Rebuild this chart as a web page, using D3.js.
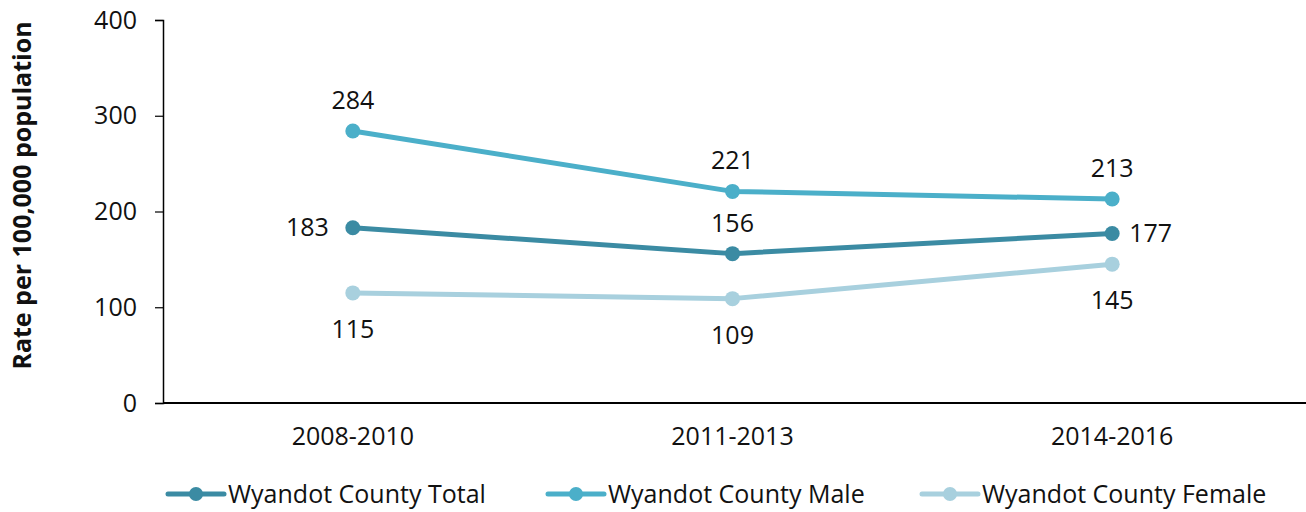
<!DOCTYPE html>
<html>
<head>
<meta charset="utf-8">
<script src="https://cdn.jsdelivr.net/npm/d3@7"></script>
<style>
  html, body { margin: 0; padding: 0; background: #fff; }
  svg { display: block; font-family: "Open Sans", "Noto Sans", sans-serif; }
</style>
</head>
<body>
<svg id="chart" width="1306" height="512"></svg>
<script>
// Periods along the x axis
const periods = ["2008-2010", "2011-2013", "2014-2016"];

// Rates per 100,000 population
const totalRates = [183, 156, 177];
const maleRates = [284, 221, 213];
const femaleRates = [115, 109, 145];

const seriesNames = ["Wyandot County Total", "Wyandot County Male", "Wyandot County Female"];
const yTicks = [0, 100, 200, 300, 400];

const series = [
  { name: seriesNames[0], values: totalRates, color: "#3B8BA3", labelPos: ["left", "above", "right"] },
  { name: seriesNames[1], values: maleRates, color: "#4BAFC9", labelPos: ["above", "above", "above"] },
  { name: seriesNames[2], values: femaleRates, color: "#A8D0DE", labelPos: ["below", "below", "below"] }
];

const FONT = "'Open Sans', 'Noto Sans', sans-serif";
const svg = d3.select("#chart");
const plot = { left: 163, right: 1302, top: 20, bottom: 403 };

const x = d3.scaleBand().domain(periods).range([plot.left, plot.right]);
const y = d3.scaleLinear().domain([0, 400]).range([plot.bottom, plot.top]);
const cx = d => x(d) + x.bandwidth() / 2;

// Y axis
const yAxis = svg.append("g")
  .attr("transform", `translate(${plot.left},0)`)
  .call(d3.axisLeft(y).tickValues(yTicks).tickSize(8).tickPadding(18));
yAxis.select(".domain").attr("stroke", "#000").attr("stroke-width", 1.5);
yAxis.selectAll(".tick line").attr("stroke", "#000").attr("stroke-width", 1.2);
yAxis.selectAll(".tick text").attr("font-size", 25).attr("fill", "#111").attr("font-family", FONT);

// X axis
const xAxis = svg.append("g")
  .attr("transform", `translate(0,${plot.bottom})`)
  .call(d3.axisBottom(x).tickSize(0).tickPadding(24));
xAxis.select(".domain").attr("d", `M${plot.left},0H1306`).attr("stroke", "#000").attr("stroke-width", 2.2);
xAxis.selectAll(".tick text").attr("font-size", 25).attr("fill", "#111").attr("font-family", FONT);

// Y axis title
svg.append("text")
  .attr("transform", `translate(31,${(plot.top + plot.bottom) / 2 - 16}) rotate(-90)`)
  .attr("text-anchor", "middle")
  .attr("font-size", 25)
  .attr("font-weight", "bold")
  .attr("fill", "#111")
  .text("Rate per 100,000 population");

// Lines, markers and value labels
const line = d3.line().x((v, i) => cx(periods[i])).y(v => y(v));

series.forEach(s => {
  const g = svg.append("g");
  g.append("path")
    .attr("d", line(s.values))
    .attr("fill", "none")
    .attr("stroke", s.color)
    .attr("stroke-width", 5)
    .attr("stroke-linejoin", "round");
  g.selectAll("circle").data(s.values).join("circle")
    .attr("cx", (v, i) => cx(periods[i]))
    .attr("cy", v => y(v))
    .attr("r", 7.5)
    .attr("fill", s.color);
  g.selectAll("text").data(s.values).join("text")
    .attr("font-size", 25)
    .attr("fill", "#111")
    .attr("x", (v, i) => {
      const p = s.labelPos[i];
      if (p === "left") return cx(periods[i]) - 24;
      if (p === "right") return cx(periods[i]) + 17;
      return cx(periods[i]);
    })
    .attr("y", (v, i) => {
      const p = s.labelPos[i];
      if (p === "above") return y(v) - 22;
      if (p === "below") return y(v) + 45;
      return y(v) + 8;
    })
    .attr("text-anchor", (v, i) => {
      const p = s.labelPos[i];
      return p === "left" ? "end" : p === "right" ? "start" : "middle";
    })
    .text(v => v);
});

// Legend
const legendX = [168, 548, 922];
const legendY = 494;
series.forEach((s, i) => {
  const g = svg.append("g").attr("transform", `translate(${legendX[i]},${legendY})`);
  g.append("line").attr("x1", 0).attr("x2", 56).attr("y1", 0).attr("y2", 0)
    .attr("stroke", s.color).attr("stroke-width", 5).attr("stroke-linecap", "round");
  g.append("circle").attr("cx", 28).attr("cy", 0).attr("r", 7).attr("fill", s.color);
  g.append("text").attr("x", 60).attr("y", 9)
    .attr("font-size", 25).attr("fill", "#111")
    .text(s.name);
});
</script>
</body>
</html>
